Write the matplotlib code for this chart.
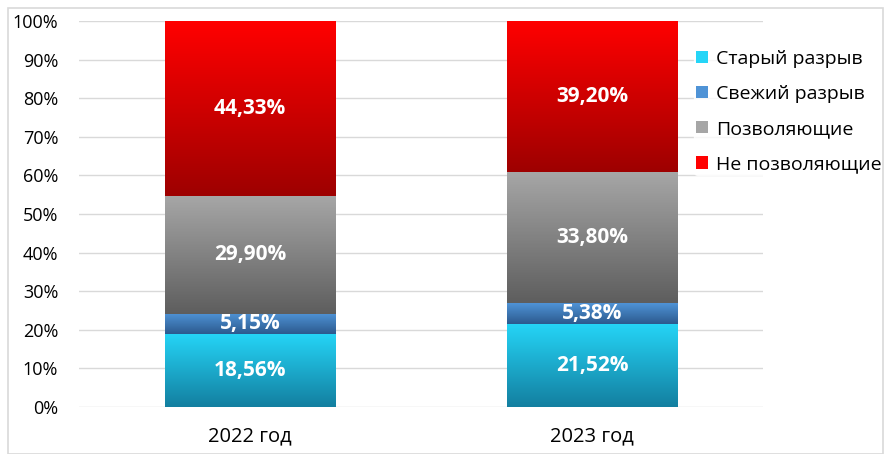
import numpy as np
import matplotlib.pyplot as plt
from matplotlib.colors import LinearSegmentedColormap
from matplotlib.patches import Rectangle, Patch

plt.rcParams['font.family'] = ['Open Sans', 'DejaVu Sans']

years = ['2022 год', '2023 год']
series = ['Старый разрыв', 'Свежий разрыв', 'Позволяющие', 'Не позволяющие']
values = {
    'Старый разрыв': [18.56, 21.52],
    'Свежий разрыв': [5.15, 5.38],
    'Позволяющие': [29.90, 33.80],
    'Не позволяющие': [44.33, 39.20],
}
labels = {
    'Старый разрыв': ['18,56%', '21,52%'],
    'Свежий разрыв': ['5,15%', '5,38%'],
    'Позволяющие': ['29,90%', '33,80%'],
    'Не позволяющие': ['44,33%', '39,20%'],
}
# top colour, bottom colour
grads = {
    'Старый разрыв': ('#25D5F7', '#137FA0'),
    'Свежий разрыв': ('#4F93D6', '#2C5A8E'),
    'Позволяющие': ('#A6A6A6', '#5E5E5E'),
    'Не позволяющие': ('#FF0000', '#9E0000'),
}

fig = plt.figure(figsize=(8.91, 4.54), dpi=100)
ax = fig.add_axes([79/891, 1-407/454, (763-79)/891, (407-21)/454])

totals = np.sum([values[s] for s in series], axis=0)
x = np.arange(len(years))
width = 0.5
bottom = np.zeros(len(years))
for s in series:
    pct = np.array(values[s]) / totals * 100
    bars = ax.bar(x, pct, width, bottom=bottom, color='none', zorder=2)
    cmap = LinearSegmentedColormap.from_list(s, [grads[s][1], grads[s][0]])
    for i, b in enumerate(bars):
        x0, y0 = b.get_x(), b.get_y()
        h = b.get_height()
        img = ax.imshow(np.linspace(0, 1, 100).reshape(-1, 1), cmap=cmap,
                        extent=[x0, x0 + width, y0, y0 + h], origin='lower',
                        aspect='auto', zorder=2)
        img.set_clip_path(b)
        ax.text(x[i], y0 + h / 2, labels[s][i], ha='center', va='center',
                color='white', fontsize=15, fontweight='bold', zorder=3)
    bottom += pct

ax.set_xlim(-0.5, 1.5)
ax.set_ylim(0, 100)
ax.set_yticks(np.arange(0, 101, 10))
ax.set_yticklabels([f'{v}%' for v in range(0, 101, 10)], fontsize=13)
ax.set_xticks(x)
ax.set_xticklabels(years, fontsize=14.5)
ax.tick_params(length=0)
ax.tick_params(axis='y', pad=15)
ax.tick_params(axis='x', pad=14)
ax.grid(axis='y', color='#D9D9D9', linewidth=1, zorder=0)
ax.set_axisbelow(True)
for sp in ax.spines.values():
    sp.set_visible(False)

handles = [Patch(facecolor=grads[s][0], edgecolor='none', label=s) for s in series]
leg = ax.legend(handles=handles, loc='upper left', bbox_to_anchor=(694/891, 1-48/454),
                bbox_transform=fig.transFigure, frameon=True, fontsize=14,
                handlelength=0.6, handleheight=0.6, handletextpad=0.45,
                labelspacing=0.88, borderaxespad=0, borderpad=0.1)
leg.get_frame().set_facecolor('white')
leg.get_frame().set_edgecolor('white')

fig.patches.append(Rectangle((8/891, 0), 1 - 16/891, 1 - 8/454, transform=fig.transFigure,
                             fill=False, edgecolor='#D9D9D9', linewidth=1.2))

fig.savefig('out.png', dpi=100)
